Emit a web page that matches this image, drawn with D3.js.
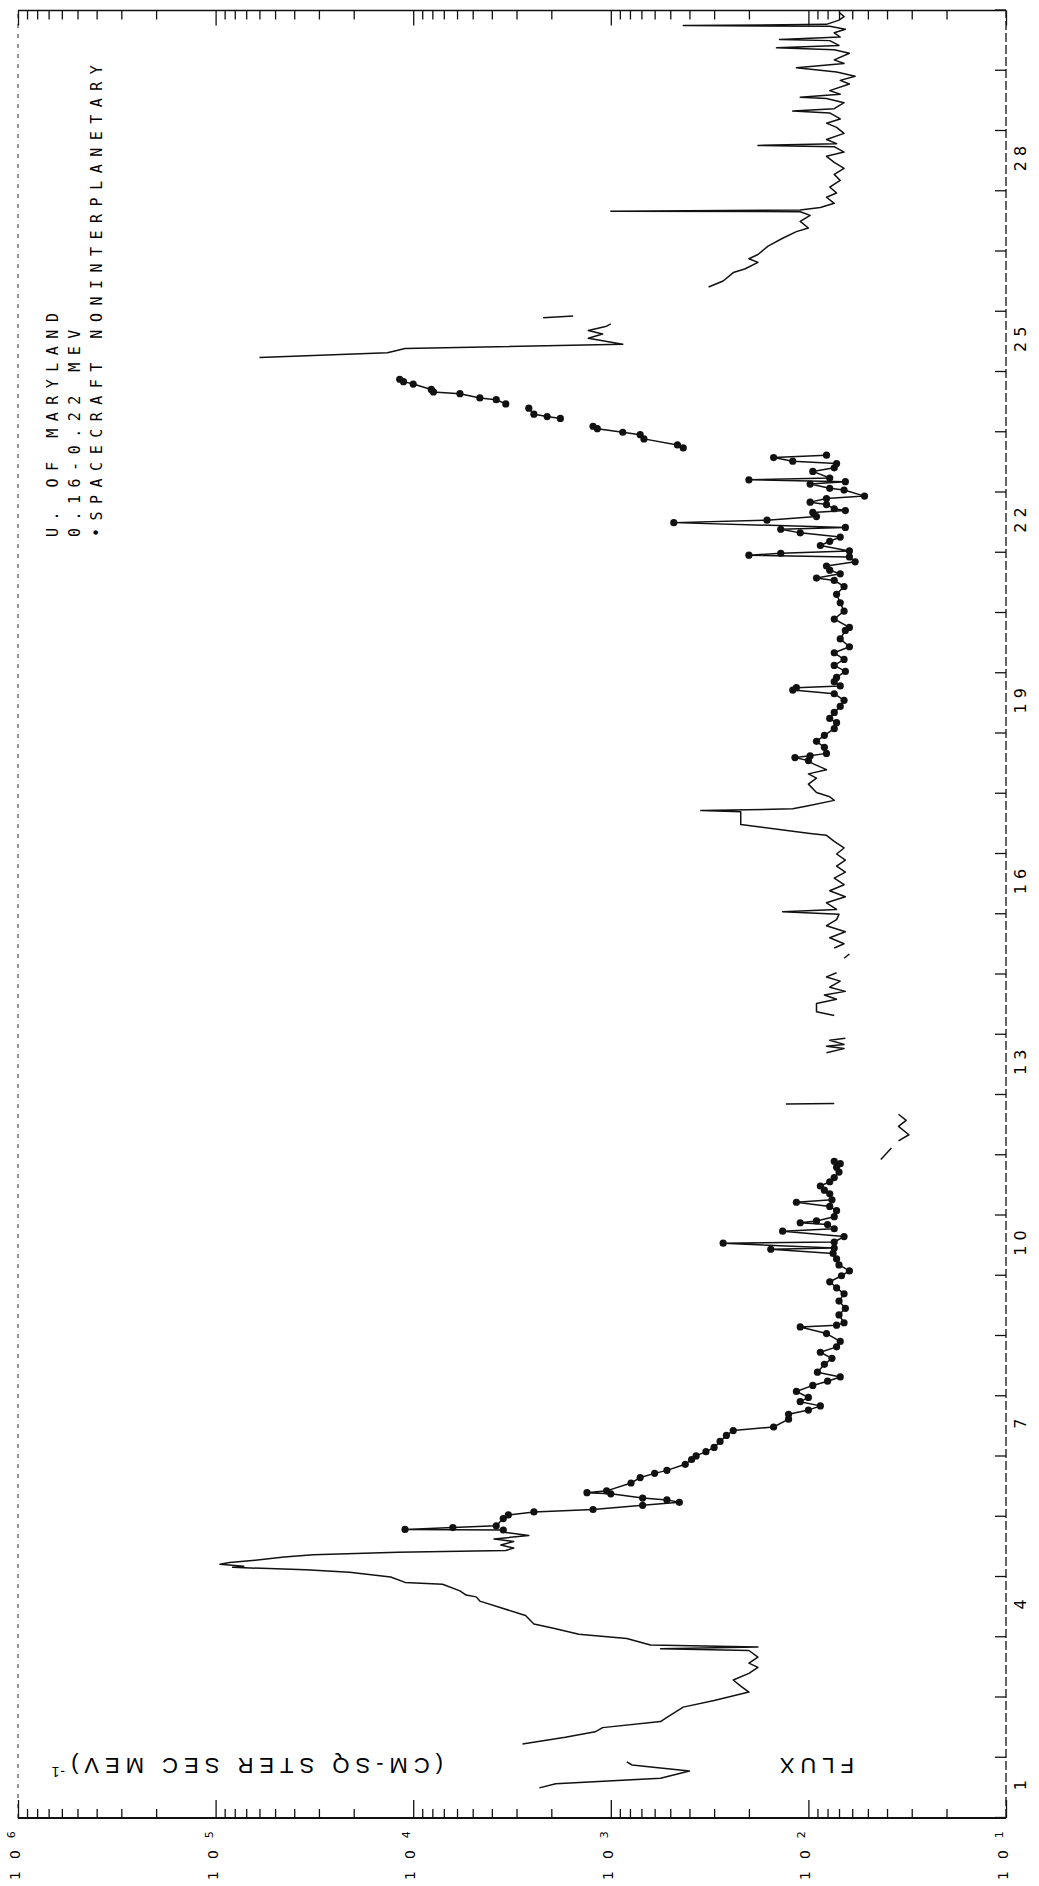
<!DOCTYPE html>
<html>
<head>
<meta charset="utf-8">
<script src="https://cdnjs.cloudflare.com/ajax/libs/d3/7.8.5/d3.min.js"></script>
<style>
  body { margin: 0; background: #fff; }
  svg { display: block; }
</style>
</head>
<body>
<div id="chart"></div>
<script>
// tick labels
const dayLabels = [1, 4, 7, 10, 13, 16, 19, 22, 25, 28];
const fluxDecades = [1e1, 1e2, 1e3, 1e4, 1e5, 1e6];
const fluxExponents = ["1", "2", "3", "4", "5", "6"];
const legendLines = ["U. OF MARYLAND", "0.16-0.22 MEV", "\u2022SPACECRAFT NONINTERPLANETARY"];

// [day, flux] - interplanetary stretches (plain line)
const interA = [[0.50,2.3e3],[0.57,1.9e3],[0.66,5.6e2],[0.78,4.0e2],[0.83,5.6e2],[0.88,7.8e2],[0.93,8.3e2]];
const interB = [[1.23,2.8e3],[1.34,1.7e3],[1.43,1.2e3],[1.50,1.1e3],[1.60,5.6e2],[1.67,5.2e2],[1.84,4.3e2],
  [1.95,3.0e2],[2.09,2.0e2],[2.19,2.2e2],[2.29,2.4e2],[2.40,2.0e2],[2.50,1.8e2],[2.57,2.0e2],[2.67,1.8e2],
  [2.78,2.0e2],[2.81,5.6e2],[2.84,1.8e2],[2.87,6.3e2],[2.98,8.3e2],[3.05,1.45e3],[3.15,1.95e3],[3.22,2.45e3],
  [3.36,2.7e3],[3.60,4.6e3],[3.67,4.8e3],[3.70,5.4e3],[3.77,5.8e3],[3.88,7.1e3],[3.91,1.1e4],[4.00,1.3e4],
  [4.08,2.1e4],[4.12,3.5e4],[4.16,8.2e4],[4.18,7.2e4],[4.21,9.5e4],[4.24,8.5e4],[4.28,6.3e4],[4.33,4.5e4],
  [4.37,3.2e4],[4.41,1.2e4],[4.44,3.4e3],[4.48,3.1e3],[4.53,3.6e3],[4.59,3.1e3],[4.63,3.9e3],[4.69,2.6e3],
  [4.74,3.4e3],[4.78,3.5e3]];
const interC = [[10.93,4.3e1],[11.12,3.8e1]];
const interD = [[11.24,3.5e1],[11.34,3.1e1],[11.48,3.5e1],[11.58,3.2e1],[11.68,3.5e1]];
const interE = [[11.85,1.3e2],[11.86,7.4e1]];
const interF = [[12.70,8.1e1],[12.77,6.6e1],[12.81,8.1e1],[12.84,6.6e1],[12.91,7.8e1],[12.94,6.5e1]];
const interG = [[13.32,7.4e1],[13.38,9.1e1],[13.52,9.1e1],[13.59,7.2e1],[13.66,8.3e1],[13.72,6.5e1],
  [13.79,7.8e1],[13.89,6.9e1],[13.96,8.1e1],[14.03,7.2e1]];
const interH = [[14.27,6.6e1],[14.34,6.2e1]];
const interI = [[14.44,7.4e1],[14.51,6.6e1],[14.61,7.8e1],[14.71,6.5e1],[14.81,8.1e1],[14.91,7.2e1],
  [15.00,7.0e1],[15.04,1.35e2],[15.08,7.2e1],[15.19,8.1e1],[15.29,6.5e1],[15.39,7.8e1],[15.49,6.6e1],
  [15.60,7.4e1],[15.70,6.5e1],[15.80,7.2e1],[15.90,6.5e1],[16.00,7.2e1],[16.10,6.6e1],[16.21,7.4e1],
  [16.31,8.1e1],[16.34,9.8e1],[16.49,2.2e2],[16.70,2.2e2],[16.72,3.5e2],[16.75,1.2e2],[16.80,1.0e2],
  [16.89,7.4e1],[16.95,7.8e1],[17.02,9.1e1],[17.16,1.0e2],[17.26,9.1e1],[17.33,1.0e2],[17.40,8.1e1],
  [17.50,9.5e1],[17.55,1.0e2]];
const interJ = [[24.24,6.0e4],[24.32,1.35e4],[24.39,1.1e4],[24.46,8.7e2],[24.56,1.3e3],[24.63,1.1e3],
  [24.69,1.3e3],[24.76,1.05e3],[24.80,1.0e3]];
const interK = [[24.90,2.2e3],[24.93,1.55e3]];
const interL = [[25.41,3.2e2],[25.51,2.7e2],[25.65,2.4e2],[25.71,2.1e2],[25.82,1.8e2],[25.88,2.0e2],
  [25.95,1.8e2],[26.09,1.6e2],[26.22,1.35e2],[26.33,1.15e2],[26.39,1.0e2],[26.50,1.1e2],[26.60,9.8e1],
  [26.66,1.1e2],[26.67,1.0e3],[26.69,1.1e2],[26.73,8.7e1],[26.80,7.4e1],[26.90,8.1e1],[26.97,7.2e1],
  [27.07,7.8e1],[27.18,6.9e1],[27.28,7.4e1],[27.38,6.6e1],[27.48,7.4e1],[27.58,8.1e1],[27.65,6.6e1],
  [27.74,7.4e1],[27.76,1.8e2],[27.79,7.2e1],[27.86,8.1e1],[27.96,6.6e1],[28.06,7.2e1],[28.13,8.1e1],
  [28.20,6.9e1],[28.30,7.8e1],[28.33,1.2e2],[28.37,7.4e1],[28.47,6.6e1],[28.54,8.1e1],[28.56,1.1e2],
  [28.61,6.9e1],[28.67,7.8e1],[28.78,6.2e1],[28.84,6.9e1],[28.91,5.8e1],[28.98,7.2e1],[29.05,1.15e2],
  [29.12,6.6e1],[29.18,7.4e1],[29.29,6.2e1],[29.35,7.4e1],[29.38,1.45e2],[29.42,7.0e1],[29.50,7.8e1],
  [29.52,1.4e2],[29.56,6.9e1],[29.63,7.4e1],[29.69,6.5e1],[29.74,7.8e1],[29.75,4.3e2],[29.77,8.1e1],
  [29.84,7.0e1],[29.90,6.6e1],[29.97,7.0e1]];

// [day, flux] - spacecraft noninterplanetary stretches (line with dots)
const nonInterA = [[4.78,3.5e3],[4.79,1.1e4],[4.82,6.3e3],[4.85,3.8e3],[4.97,3.5e3],[5.03,3.3e3],[5.08,2.45e3],
  [5.12,1.23e3],[5.19,6.9e2],[5.24,4.5e2],[5.28,5.2e2],[5.31,6.9e2],[5.38,1.0e3],[5.40,1.32e3],[5.43,1.05e3],
  [5.56,7.9e2],[5.65,7.1e2],[5.72,6.0e2],[5.77,5.2e2],[5.87,4.2e2],[5.95,3.9e2],[6.01,3.7e2],[6.08,3.3e2],
  [6.15,3.0e2],[6.25,2.8e2],[6.35,2.6e2],[6.43,2.4e2],[6.49,1.5e2],[6.62,1.26e2],[6.70,1.26e2],[6.77,1.0e2],
  [6.84,8.7e1],[6.91,1.1e2],[6.98,1.0e2],[7.08,1.15e2],[7.18,9.5e1],[7.25,8.0e1],[7.32,6.9e1],[7.40,9.0e1],
  [7.53,8.3e1],[7.63,7.6e1],[7.73,8.7e1],[7.82,7.2e1],[7.91,6.9e1],[8.04,8.1e1],[8.15,1.1e2],[8.18,7.2e1],
  [8.22,6.6e1],[8.35,7.0e1],[8.46,6.5e1],[8.58,7.0e1],[8.70,6.6e1],[8.80,7.2e1],[8.90,7.8e1],[9.00,6.8e1],
  [9.08,6.2e1],[9.18,7.0e1],[9.28,7.2e1],[9.37,7.5e1],[9.44,1.55e2],[9.46,7.4e1],[9.54,2.7e2],[9.56,7.4e1],
  [9.65,6.6e1],[9.74,1.35e2],[9.78,7.4e1],[9.85,8.0e1],[9.88,1.1e2],[9.91,9.1e1],[9.98,7.4e1],[10.08,7.2e1],
  [10.15,7.8e1],[10.22,1.15e2],[10.26,7.6e1],[10.36,7.8e1],[10.42,8.3e1],[10.49,8.7e1],[10.56,7.8e1],
  [10.63,7.4e1],[10.72,7.0e1],[10.80,7.2e1],[10.86,6.9e1],[10.90,7.4e1]];
const nonInterB = [[17.55,1.0e2],[17.60,1.17e2],[17.63,9.8e1],[17.67,8.1e1],[17.77,8.3e1],[17.87,9.1e1],
  [17.97,8.3e1],[18.08,7.4e1],[18.18,7.2e1],[18.25,7.8e1],[18.35,7.4e1],[18.45,6.9e1],[18.55,6.6e1],
  [18.66,7.4e1],[18.72,1.2e2],[18.76,1.15e2],[18.79,6.9e1],[18.86,7.4e1],[18.93,7.2e1],[19.03,6.5e1],
  [19.13,7.4e1],[19.23,6.6e1],[19.34,7.4e1],[19.44,6.2e1],[19.57,6.9e1],[19.71,6.5e1],[19.76,6.2e1],
  [19.90,7.4e1],[20.03,6.6e1],[20.17,6.9e1],[20.31,7.2e1],[20.44,6.6e1],[20.54,7.4e1],[20.58,9.1e1],
  [20.65,6.9e1],[20.71,7.8e1],[20.78,8.1e1],[20.85,5.8e1],[20.93,6.2e1],[20.96,2.0e2],[20.99,1.38e2],
  [21.03,6.2e1],[21.12,8.7e1],[21.19,7.8e1],[21.26,6.9e1],[21.33,1.1e2],[21.39,1.38e2],[21.42,6.5e1],
  [21.50,4.8e2],[21.54,1.62e2],[21.60,9.1e1],[21.67,9.5e1],[21.70,6.5e1],[21.73,7.4e1],[21.80,8.1e1],
  [21.84,9.8e1],[21.90,8.1e1],[21.94,5.2e1],[22.04,6.6e1],[22.07,7.8e1],[22.14,9.8e1],[22.18,6.5e1],
  [22.21,2.0e2],[22.24,7.8e1],[22.35,9.5e1],[22.41,7.4e1],[22.48,7.2e1],[22.52,1.2e2],[22.58,1.5e2],
  [22.62,8.1e1]];
const nonInterC = [[22.74,4.3e2],[22.79,4.6e2],[22.89,6.8e2],[22.96,7.1e2],[23.00,8.7e2],[23.06,1.17e3],[23.10,1.23e3]];
const nonInterD = [[23.23,1.8e3],[23.26,2.1e3],[23.30,2.45e3],[23.40,2.6e3]];
const nonInterE = [[23.47,3.4e3],[23.54,3.8e3],[23.57,4.6e3],[23.64,5.8e3],[23.67,7.9e3],[23.71,8.1e3],
  [23.80,1.0e4],[23.84,1.12e4],[23.88,1.17e4]];

const lineSegs = [interA, interB, interC, interD, interE, interF, interG, interH, interI, interJ, interK, interL];
const dotSegs = [nonInterA, nonInterB, nonInterC, nonInterD, nonInterE];

// the plot is drawn upright and the whole frame turned a quarter turn
const W = 1807.5, H = 988;

const svg = d3.select("#chart").append("svg")
    .attr("width", 1039)
    .attr("height", 1886)
    .style("background", "#fff");

const g = svg.append("g")
    .attr("transform", "translate(18,1818) rotate(-90)");

const x = d3.scaleLinear().domain([0, 30]).range([0, W]);
const y = d3.scaleLog().domain([10, 1e6]).range([H, 0]);

// frame
g.append("line").attr("x1", 0).attr("y1", H).attr("x2", W).attr("y2", H)
    .attr("stroke", "#222").attr("stroke-width", 1.4).attr("stroke-dasharray", "9,3");
g.append("line").attr("x1", 0).attr("y1", 0).attr("x2", W).attr("y2", 0)
    .attr("stroke", "#444").attr("stroke-width", 1.1).attr("stroke-dasharray", "4,6");
g.append("line").attr("x1", 0).attr("y1", 0).attr("x2", 0).attr("y2", H)
    .attr("stroke", "#111").attr("stroke-width", 2);
g.append("line").attr("x1", W).attr("y1", 0).attr("x2", W).attr("y2", H)
    .attr("stroke", "#111").attr("stroke-width", 1.5);

// day ticks
let dayAxis = g.append("g")
    .attr("transform", "translate(0," + H + ")")
    .call(d3.axisBottom(x).tickValues(x.ticks(30)).tickSize(-11).tickFormat(""));
dayAxis.select(".domain").remove();

g.selectAll(".dayLabel")
    .data(dayLabels)
    .enter().append("text")
    .attr("class", "dayLabel")
    .attr("x", d => x(d) - 25)
    .attr("y", H + 20)
    .attr("text-anchor", "middle")
    .style("font-family", "DejaVu Sans, sans-serif")
    .style("font-size", "16px")
    .style("letter-spacing", "5px")
    .text(d => d);

// flux ticks, both sides
let minor = y.ticks().filter(v => fluxDecades.indexOf(v) < 0);
[[d3.axisLeft, 0], [d3.axisRight, W]].forEach(function(a) {
    let side = a[0], pos = a[1];
    let gm = g.append("g").attr("transform", "translate(" + pos + ",0)")
        .call(side(y).tickValues(minor).tickSize(-9).tickFormat(""));
    gm.select(".domain").remove();
    let gM = g.append("g").attr("transform", "translate(" + pos + ",0)")
        .call(side(y).tickValues(fluxDecades).tickSize(pos === 0 ? -18 : -15).tickFormat(""));
    gM.select(".domain").remove();
});
g.selectAll(".tick line").attr("stroke", "#111").attr("stroke-width", 1.3);

let fl = g.selectAll(".fluxLabel")
    .data(fluxDecades)
    .enter().append("text")
    .attr("class", "fluxLabel")
    .attr("x", -62)
    .attr("y", d => y(d) + 2)
    .style("font-family", "DejaVu Sans, sans-serif")
    .style("font-size", "14px")
    .style("letter-spacing", "12px")
    .text("10");
fl.append("tspan")
    .attr("dy", -5)
    .style("font-size", "11px")
    .style("letter-spacing", "0px")
    .text((d, i) => fluxExponents[i]);

// axis title
g.append("text")
    .attr("transform", "translate(60,836) rotate(-90)")
    .style("font-family", "Liberation Sans, Arial, sans-serif")
    .style("font-size", "22px")
    .style("letter-spacing", "6px")
    .text("FLUX");
let unit = g.append("text")
    .attr("transform", "translate(60,425) rotate(-90)")
    .style("font-family", "Liberation Sans, Arial, sans-serif")
    .style("font-size", "22px")
    .style("letter-spacing", "6px")
    .text("(CM-SQ STER SEC MEV)");
unit.append("tspan")
    .attr("dy", -9)
    .style("font-size", "14px")
    .style("letter-spacing", "1px")
    .text("-1");

// legend
g.selectAll(".legend")
    .data(legendLines)
    .enter().append("text")
    .attr("class", "legend")
    .attr("x", 1281)
    .attr("y", (d, i) => 39.5 + i * 22)
    .style("font-family", "DejaVu Sans Mono, monospace")
    .style("font-size", "15px")
    .style("letter-spacing", "7.5px")
    .text(d => d);

// data
let line = d3.line()
    .x(d => x(d[0]))
    .y(d => y(d[1]));

g.selectAll(".seg")
    .data(lineSegs.concat(dotSegs))
    .enter().append("path")
    .attr("class", "seg")
    .attr("d", line)
    .attr("fill", "none")
    .attr("stroke", "#111")
    .attr("stroke-width", 1.5)
    .attr("stroke-linejoin", "round");

g.selectAll(".dot")
    .data(dotSegs.flat())
    .enter().append("circle")
    .attr("class", "dot")
    .attr("cx", d => x(d[0]))
    .attr("cy", d => y(d[1]))
    .attr("r", 3.6)
    .attr("fill", "#111");
</script>
</body>
</html>
